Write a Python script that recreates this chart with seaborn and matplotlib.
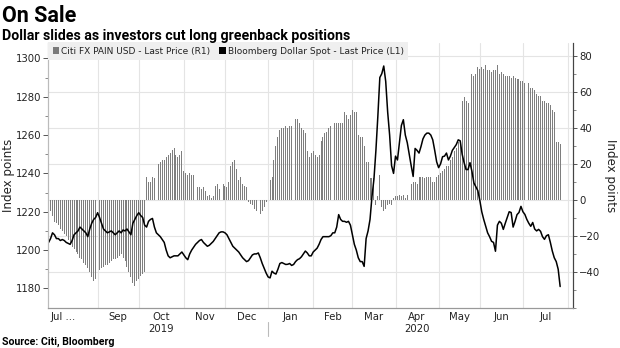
import numpy as np
import pandas as pd
import matplotlib
matplotlib.use("Agg")
import matplotlib.pyplot as plt
import matplotlib.transforms as mtransforms
from matplotlib.patches import Patch
from matplotlib.lines import Line2D
import seaborn as sns

nan = np.nan

# ---------------- data (business days, 2019-07-29 .. 2020-07-28) ----------------
start_date = "2019-07-29"
end_date = "2020-07-28"

# Citi FX PAIN USD index (right axis), NaN on US holidays (no print)
citi_pain = [
    -3, -6, -9, -12, -13,
    -14, -16, -17, -19, -20,
    -22, -24, -26, -27, -29,
    -30, -32, -33, -35, -36,
    -38, -40, -43, -45, -44,
    nan, -39, -38, -37, -36,
    -36, -35, -34, -33, -33,
    -32, -31, -30, -32, -34,
    -37, -40, -43, -46, -48,
    -45, -44, -42, -41, -40,
    13, 10, 10, 13, 12,
    nan, 20, 21, 22, 22,
    24, 25, 26, 28, 29,
    25, 24, 25, 27, 16,
    15, 14, 15, 14, 14,
    nan, 7, 7, 6, 7,
    5, 2, 3, 1, 2,
    8, 9, 6, nan, 9,
    8, 7, 10, 19, 21,
    22, 17, 11, 13, 9,
    8, 7, -1, -2, -3,
    -5, -6, nan, -8, -6,
    -4, -1, nan, 11, 13,
    22, 30, 35, 39, 40,
    40, 41, 40, 41, 41,
    nan, 45, 45, 43, 40,
    39, 37, 27, 24, 26,
    27, 25, 24, 25, 33,
    35, 37, 38, 40, 41,
    nan, 43, 43, 43, 43,
    43, 49, 47, 45, 47,
    50, 49, 49, 36, 35,
    35, 30, 21, 21, 12,
    12, 12, -3, 2, 14,
    -4, -6, -5, -3, -2,
    -3, 1, 2, 2, 3,
    2, 3, 1, 3, nan,
    9, 10, 10, 9, 13,
    13, 13, 12, 13, 13,
    13, 10, 10, 13, 14,
    15, 16, 17, 19, 19,
    22, 24, 27, 29, 32,
    33, 55, 57, 55, 54,
    nan, 70, 69, 70, 74,
    73, 74, 73, 75, 72,
    72, 71, 72, 72, 75,
    70, 71, 70, 69, 69,
    69, 68, 69, 68, 67,
    67, 66, 66, 65, nan,
    65, 62, 62, 61, 59,
    58, 58, 55, 55, 54,
    54, 53, 50, 49, 32,
    32, 31,
]

# Bloomberg Dollar Spot index (left axis)
dollar_spot = [
    1204, 1206, 1209, 1208, 1206,
    1206, 1205, 1205.5, 1205, 1204,
    1203.5, 1203, 1205, 1208, 1209,
    1210, 1212, 1211, 1210, 1209,
    1207, 1211, 1214, 1216, 1217,
    1219.5, 1217, 1214, 1211, 1210,
    1209, 1209.5, 1210, 1209, 1208,
    1209, 1210, 1209, 1210.5, 1210,
    1211, 1209.5, 1208, 1214, 1216,
    1218, 1219.5, 1218, 1217, 1213,
    1212, 1215, 1216, 1216.5, 1212,
    1209, 1208, 1207, 1205.5, 1204,
    1200, 1197, 1196, 1196.5, 1197,
    1197, 1197, 1198, 1199, 1197.5,
    1196, 1195, 1198, 1200, 1201.5,
    1203, 1204, 1205, 1205.5, 1204,
    1203, 1202, 1202.5, 1203.5, 1204.5,
    1206, 1207.5, 1209, 1209.5, 1209.5,
    1209, 1208, 1206, 1204, 1202,
    1201, 1200, 1199, 1197.5, 1196,
    1195, 1194, 1194.5, 1196, 1197.5,
    1198, 1198, 1198.5, 1196, 1193,
    1190.5, 1188, 1186, 1185.5, 1189,
    1188, 1187.5, 1190, 1193, 1193.5,
    1193, 1192.5, 1192.6, 1193, 1192,
    1192.5, 1194, 1195, 1195.5, 1196.5,
    1198, 1199.5, 1198.5, 1197, 1197,
    1199, 1200, 1201, 1203, 1205.5,
    1207, 1207, 1207, 1207, 1207.5,
    1209, 1209, 1212, 1218.5, 1216,
    1215, 1215, 1214.5, 1215, 1213,
    1208, 1203, 1200, 1196, 1194,
    1194, 1191.5, 1206, 1210, 1216,
    1228, 1237, 1252, 1270, 1290,
    1292, 1296, 1288, 1272, 1260,
    1244, 1240, 1249, 1247, 1256,
    1265, 1268, 1260, 1256, 1250,
    1244, 1238.4, 1253, 1252, 1250.6,
    1254, 1258, 1260, 1261, 1261,
    1260, 1257.5, 1252, 1246, 1243,
    1245, 1248.7, 1249, 1250.6, 1247,
    1249, 1252, 1253.5, 1255, 1257.5,
    1257, 1250, 1245.6, 1242, 1242,
    1245.6, 1241, 1235, 1233, 1231,
    1226, 1220, 1216, 1212.4, 1209,
    1207, 1204.6, 1204, 1199.4, 1213,
    1215, 1214, 1210.8, 1214, 1217,
    1220, 1219.6, 1212, 1215, 1218.5,
    1219.6, 1222.8, 1220, 1218.6, 1216,
    1214, 1212.4, 1214.4, 1211, 1210,
    1210.8, 1209.8, 1207, 1205.6, 1207.5,
    1208, 1204, 1199.5, 1196, 1194,
    1190, 1181,
]

month_labels = ["Jul ...", "Sep", "Oct", "Nov", "Dec", "Jan", "Feb",
                "Mar", "Apr", "May", "Jun", "Jul"]
year_labels = ["2019", "2020"]
left_ticks = [1180, 1200, 1220, 1240, 1260, 1280, 1300]
right_ticks = [-40, -20, 0, 20, 40, 60, 80]

# ---------------- frame ----------------
dates = pd.bdate_range(start_date, end_date)
df = pd.DataFrame({"i": np.arange(len(dates)), "date": dates,
                   "pain": citi_pain, "dollar": dollar_spot})

ext = pd.bdate_range(start_date, "2020-08-10")
month_key = ext.to_period("M")
first_idx = [int(np.argmax(month_key == p)) for p in month_key.unique()]
bounds = first_idx[2:]  # Sep 2019 .. Aug 2020 boundaries
label_pos = [7.5] + [(a + b) / 2 for a, b in zip(bounds[:-1], bounds[1:])]
jan_idx = first_idx[month_key.unique().tolist().index(pd.Period("2020-01", "M"))]
oct_mid = label_pos[2]
apr_mid = label_pos[8]

sns.set_theme(style="white")
plt.rcParams["font.family"] = ["DejaVu Sans"]

W, H = 620, 348
fig = plt.figure(figsize=(W / 100, H / 100), dpi=100)
L, R, T, B = 48, 573, 43, 308
ax = fig.add_axes([L / W, 1 - B / H, (R - L) / W, (B - T) / H])
ax2 = ax.twinx()
ax.set_zorder(ax2.get_zorder() + 1)
ax.patch.set_visible(False)
ax2.patch.set_facecolor("white")

# bars (right axis)
bars_df = df.dropna(subset=["pain"])
sns.barplot(data=bars_df, x="i", y="pain", native_scale=True, width=0.505,
            color="#7e7e7e", saturation=1, errorbar=None, linewidth=0,
            antialiased=False, ax=ax2)
# line (left axis)
sns.lineplot(data=df, x="i", y="dollar", color="black", linewidth=1.1, ax=ax)

xmin, xmax = -0.3, (R - L) / 1.96 - 0.3
for a in (ax, ax2):
    a.set_xlim(xmin, xmax)
ax.set_ylim(1169.8, 1308)
ax2.set_ylim(-60, 87.2)

# grid on the bar axis
grid_c = "#e4e4e4"
for v in right_ticks:
    ax2.axhline(v, color=grid_c, lw=0.8, zorder=0)
for b in bounds:
    ax2.axvline(b, color=grid_c, lw=0.8, zorder=0)

# ticks
tick_c = "#222222"
ax.set_yticks(left_ticks)
ax.set_yticks(np.arange(1180, 1310, 10), minor=True)
ax.yaxis.tick_left()
ax.tick_params(axis="y", which="major", direction="out", length=3.5, width=0.7,
               color="#555555", labelsize=7.3, labelcolor=tick_c, pad=1.5, left=True)
ax.tick_params(axis="y", which="minor", direction="out", length=2, width=0.6,
               color="#777777", left=True)
ax2.set_yticks(right_ticks)
ax2.set_yticks(np.arange(-60, 90, 10), minor=True)
ax2.yaxis.tick_right()
ax2.tick_params(axis="y", which="major", direction="out", length=3, width=0.7,
                color="#555555", labelsize=7.3, labelcolor=tick_c, pad=1.5, right=True)
ax2.tick_params(axis="y", which="minor", direction="out", length=2, width=0.6,
                color="#777777", right=True)

ax.set_xticks(bounds)
ax.set_xticklabels([])
ax.set_xticks(label_pos, minor=True)
ax.set_xticklabels(month_labels, minor=True)
ax.tick_params(axis="x", which="major", direction="out", length=3, width=0.7,
               color="#777777", bottom=True)
ax.tick_params(axis="x", which="minor", length=0, labelsize=7.3,
               labelcolor=tick_c, pad=3)
ax2.set_xticks([])
ax.set_xlabel("")
ax.set_ylabel("")
ax2.set_ylabel("")

for a in (ax, ax2):
    a.spines["top"].set_visible(False)
    a.spines["left"].set_color("#bbbbbb")
    a.spines["bottom"].set_color("#999999")
    a.spines["right"].set_color("#444444")
    for s in a.spines.values():
        s.set_linewidth(0.8)

# year labels and separator
trans = mtransforms.blended_transform_factory(ax.transData, fig.transFigure)
ax.text(oct_mid, 1 - 329 / H, year_labels[0], transform=trans, ha="center",
        va="center", fontsize=7.3, color=tick_c)
ax.text(apr_mid, 1 - 329 / H, year_labels[1], transform=trans, ha="center",
        va="center", fontsize=7.3, color=tick_c)
ax.add_line(Line2D([jan_idx, jan_idx], [1 - 322 / H, 1 - 336 / H], transform=trans,
                   color="#bbbbbb", lw=0.8, clip_on=False))

# legend
handles = [Patch(facecolor="#7a7a7a", edgecolor="none",
                 label="Citi FX PAIN USD - Last Price (R1)"),
           Patch(facecolor="black", edgecolor="none",
                 label="Bloomberg Dollar Spot - Last Price (L1)")]
leg = ax.legend(handles=handles, loc="upper left", bbox_to_anchor=(0, 1.003),
                ncol=2, frameon=True, fancybox=False, facecolor="#efefef",
                edgecolor="none", framealpha=1, fontsize=6.5, handlelength=0.7,
                handleheight=0.75, handletextpad=0.25, columnspacing=1.0,
                borderpad=0.5, borderaxespad=0)
for t in leg.get_texts():
    t.set_color("#222222")

# axis titles
fig.text(9 / W, 1 - 175.5 / H, "Index points", rotation=90, ha="center",
         va="center", fontsize=8.6, color="#222222")
fig.text(610 / W, 1 - 175.5 / H, "Index points", rotation=270, ha="center",
         va="center", fontsize=8.6, color="#222222")

# titles and source
fig.text(2 / W, 1 - 16 / H, "On Sale", fontsize=15.5, fontweight="bold",
         family=["Roboto", "DejaVu Sans"], ha="left", va="center", color="black")
fig.text(2 / W, 1 - 36 / H, "Dollar slides as investors cut long greenback positions",
         fontsize=10.2, fontweight="bold", family=["Roboto", "DejaVu Sans"],
         ha="left", va="center", color="black")
fig.text(2 / W, 1 - 342 / H, "Source: Citi, Bloomberg", fontsize=7.6,
         fontweight="bold", family=["Roboto", "DejaVu Sans"], ha="left",
         va="center", color="black")

fig.savefig("out.png", dpi=100, facecolor="white")
